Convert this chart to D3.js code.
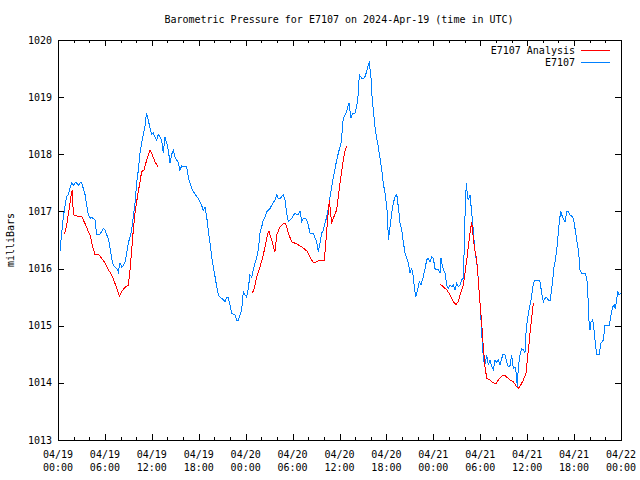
<!DOCTYPE html>
<html><head><meta charset="utf-8">
<script src="https://cdn.jsdelivr.net/npm/d3@7"></script>
<style>
body{margin:0;background:#fff;}
svg{display:block;}
text{font-family:"DejaVu Sans Mono","Liberation Mono",monospace;font-size:10px;fill:#000;}
</style></head><body>
<svg id="c" width="640" height="480"></svg>
<script>
// ---- data (hours after 2024-04-19 00:00 UTC, pressure in mb) ----
const obsHours = [0.26,0.45,0.68,0.90,1.11,1.32,1.53,1.75,1.96,2.17,2.39,2.60,2.81,3.03,3.24,3.45,3.67,3.88,4.09,4.31,4.73,4.95,5.37,5.59,5.79,6.01,6.23,6.43,6.65,6.87,7.07,7.29,7.51,7.71,7.93,8.15,8.35,8.57,8.79,8.99,9.21,9.43,9.63,9.85,10.06,10.27,10.49,10.70,10.91,11.13,11.32,11.55,11.77,11.98,12.19,12.41,12.62,12.83,13.04,13.26,13.47,13.68,13.90,14.11,14.32,14.54,14.75,14.96,15.18,15.39,15.60,15.82,16.02,16.46,16.66,16.88,17.10,17.52,17.94,18.38,18.58,18.80,19.02,19.22,19.44,19.66,19.86,20.08,20.30,20.50,20.72,20.94,21.14,21.36,21.57,21.78,22.00,22.21,22.42,22.64,22.85,23.06,23.28,23.49,23.70,23.92,24.13,24.34,24.55,24.77,24.98,25.19,25.41,25.62,25.83,26.05,26.26,26.47,26.69,26.90,27.11,27.33,27.53,27.75,27.97,28.17,28.39,28.61,28.81,29.03,29.25,29.45,29.67,29.89,30.09,30.31,30.53,30.73,30.95,31.17,31.37,31.59,31.81,32.01,32.23,32.45,32.65,32.87,33.08,33.29,33.51,33.72,33.93,34.15,34.36,34.57,34.79,35.00,35.21,35.43,35.64,35.85,36.06,36.28,36.36,36.49,36.70,36.92,37.13,37.25,37.43,37.69,37.98,38.20,38.41,38.53,38.84,39.05,39.26,39.48,39.68,39.81,40.03,40.12,40.32,40.54,40.76,40.96,41.18,41.40,41.60,41.82,42.04,42.16,42.24,42.46,42.68,42.88,43.10,43.32,43.52,43.74,43.96,44.16,44.38,44.60,44.80,45.02,45.23,45.44,45.57,45.75,45.95,46.21,46.42,46.72,46.94,47.15,47.36,47.57,47.79,48.00,48.21,48.43,48.64,48.85,48.98,49.15,49.28,49.49,49.71,49.92,50.13,50.35,50.55,50.77,50.99,51.19,51.41,51.63,51.83,51.96,52.09,52.22,52.35,52.47,52.69,52.91,53.04,53.20,53.37,53.55,53.68,53.80,53.97,54.10,54.19,54.31,54.48,54.65,54.83,55.03,55.25,55.47,55.67,55.89,56.11,56.31,56.53,56.87,57.17,57.38,57.59,57.81,58.02,58.23,58.45,58.57,58.74,58.87,59.09,59.30,59.51,59.72,59.85,60.02,60.24,60.49,60.79,61.00,61.43,61.64,61.86,62.07,62.28,62.50,62.70,62.92,63.14,63.27,63.43,63.56,63.78,63.98,64.11,64.29,64.42,64.62,64.84,65.06,65.26,65.48,65.83,65.99,66.21,66.41,66.59,66.76,66.98,67.40,67.62,67.74,67.87,68.04,68.17,68.38,68.55,68.72,68.89,69.23,69.41,69.74,69.96,70.51,70.68,70.94,71.14,71.27,71.45,71.58,71.75,71.96];
const obsPressure = [1016.30,1016.60,1016.90,1017.10,1017.26,1017.30,1017.40,1017.50,1017.45,1017.50,1017.50,1017.45,1017.50,1017.50,1017.40,1017.30,1017.10,1016.94,1016.88,1016.90,1016.85,1016.60,1016.60,1016.65,1016.70,1016.68,1016.59,1016.53,1016.36,1016.18,1016.06,1016.03,1016.00,1015.94,1016.10,1016.03,1016.05,1016.12,1016.27,1016.45,1016.55,1016.68,1016.90,1017.15,1017.50,1017.72,1018.02,1018.20,1018.34,1018.50,1018.72,1018.60,1018.45,1018.35,1018.37,1018.30,1018.25,1018.35,1018.30,1018.25,1018.02,1018.30,1018.20,1018.07,1017.85,1018.00,1018.07,1017.95,1017.90,1017.85,1017.72,1017.80,1017.78,1017.78,1017.60,1017.50,1017.40,1017.30,1017.23,1017.10,1017.02,1017.07,1016.90,1016.67,1016.45,1016.20,1016.03,1015.86,1015.68,1015.54,1015.50,1015.48,1015.45,1015.42,1015.50,1015.49,1015.36,1015.22,1015.20,1015.19,1015.10,1015.10,1015.19,1015.27,1015.60,1015.54,1015.50,1015.66,1015.89,1015.85,1015.98,1016.10,1016.19,1016.33,1016.62,1016.73,1016.85,1016.90,1016.99,1017.02,1017.05,1017.11,1017.15,1017.20,1017.29,1017.23,1017.22,1017.26,1017.29,1017.20,1016.97,1016.82,1016.85,1016.88,1016.93,1016.97,1016.95,1016.95,1017.00,1016.82,1016.88,1016.88,1016.85,1016.76,1016.62,1016.62,1016.62,1016.53,1016.47,1016.30,1016.45,1016.62,1016.67,1016.80,1016.90,1017.05,1017.26,1017.43,1017.60,1017.75,1017.90,1018.02,1018.13,1018.25,1018.48,1018.63,1018.69,1018.75,1018.86,1018.90,1018.63,1018.72,1018.72,1018.83,1019.07,1019.39,1019.33,1019.32,1019.36,1019.45,1019.56,1019.60,1019.33,1019.07,1018.78,1018.48,1018.28,1018.13,1017.93,1017.73,1017.49,1017.32,1017.08,1016.90,1016.50,1016.73,1016.97,1017.14,1017.26,1017.30,1017.08,1016.80,1016.67,1016.47,1016.27,1016.18,1016.10,1015.92,1016.00,1015.86,1015.68,1015.51,1015.60,1015.77,1015.71,1015.86,1016.00,1016.15,1016.18,1016.12,1016.20,1016.18,1016.00,1015.98,1015.98,1015.92,1016.18,1016.06,1015.98,1015.92,1015.71,1015.65,1015.71,1015.68,1015.71,1015.63,1015.74,1015.68,1015.71,1015.80,1015.83,1016.38,1017.14,1017.49,1017.29,1017.20,1017.29,1016.97,1016.79,1016.50,1016.24,1016.12,1015.94,1015.71,1015.39,1015.10,1014.87,1014.58,1014.37,1014.34,1014.49,1014.31,1014.40,1014.28,1014.23,1014.40,1014.35,1014.40,1014.31,1014.49,1014.49,1014.37,1014.28,1014.30,1014.49,1014.25,1014.28,1014.20,1013.93,1014.28,1014.49,1014.60,1014.58,1014.52,1014.87,1015.10,1015.28,1015.45,1015.74,1015.80,1015.80,1015.77,1015.57,1015.42,1015.48,1015.50,1015.45,1015.43,1015.65,1015.80,1016.03,1016.12,1016.33,1016.62,1016.82,1017.00,1016.94,1016.88,1016.82,1017.00,1017.00,1016.94,1016.90,1016.82,1016.62,1016.44,1016.27,1015.98,1015.92,1015.92,1015.83,1015.65,1015.13,1014.93,1015.07,1015.10,1014.93,1014.69,1014.50,1014.50,1014.69,1014.75,1015.01,1015.01,1015.16,1015.33,1015.36,1015.30,1015.45,1015.60,1015.54,1015.57];
// analysis series; null marks a gap in the record
const anaHours = [0.81,1.11,1.41,1.66,1.83,1.96,2.39,3.03,3.45,3.88,4.09,4.39,4.73,5.15,5.59,6.01,6.43,6.87,7.29,7.84,8.15,8.57,8.99,9.21,9.43,9.63,9.85,10.06,10.27,10.49,10.70,11.00,11.34,11.77,12.06,12.41,12.83,null,24.85,25.10,25.41,25.83,26.26,26.56,26.82,26.98,27.33,27.62,27.75,27.97,28.39,28.81,29.12,29.45,29.89,30.53,31.17,31.81,32.23,32.65,33.08,33.51,34.06,34.24,34.44,34.70,35.00,35.21,35.64,35.85,36.06,36.28,36.49,36.70,36.92,null,48.85,49.28,49.71,50.13,50.55,50.90,51.19,51.41,51.63,51.83,52.05,52.27,52.47,52.69,52.91,53.11,53.33,53.55,53.75,53.97,54.19,54.39,54.61,54.83,55.25,55.67,55.98,56.31,56.74,57.04,57.38,57.81,58.23,58.66,58.87,59.18,59.51,59.85,60.02,60.20,60.36,60.58,60.71,60.88];
const anaPressure = [1016.60,1016.76,1017.03,1017.26,1017.38,1016.94,1016.92,1016.91,1016.79,1016.65,1016.59,1016.41,1016.24,1016.25,1016.18,1016.10,1015.98,1015.89,1015.74,1015.52,1015.60,1015.67,1015.71,1015.98,1016.33,1016.68,1016.97,1017.17,1017.35,1017.52,1017.70,1017.72,1017.90,1018.08,1017.99,1017.87,1017.77,null,1015.57,1015.65,1015.86,1016.03,1016.24,1016.44,1016.62,1016.65,1016.50,1016.35,1016.30,1016.59,1016.73,1016.79,1016.79,1016.62,1016.47,1016.43,1016.38,1016.31,1016.20,1016.10,1016.12,1016.15,1016.15,1016.44,1016.79,1017.20,1016.79,1016.88,1017.03,1017.26,1017.49,1017.70,1017.90,1018.05,1018.15,null,1015.73,1015.68,1015.63,1015.54,1015.42,1015.37,1015.42,1015.54,1015.63,1015.71,1015.92,1016.15,1016.38,1016.62,1016.82,1016.53,1016.30,1016.15,1015.80,1015.39,1015.04,1014.63,1014.28,1014.08,1014.05,1014.00,1013.98,1014.05,1014.12,1014.14,1014.10,1014.05,1014.02,1013.93,1013.90,1013.96,1014.05,1014.17,1014.40,1014.63,1014.87,1015.13,1015.33,1015.40];
const yTicks = [1013,1014,1015,1016,1017,1018,1019,1020];
const seriesNames = ["E7107 Analysis","E7107"];
const titleText = "Barometric Pressure for E7107 on 2024-Apr-19 (time in UTC)";
const yTitle = "milliBars";

// ---- chart ----
const start = Date.UTC(2024,3,19,0,0);
const toDate = h => new Date(start + h*3600e3);
const obs = obsHours.map((h,i)=>({t:toDate(h), p:obsPressure[i]}));
const ana = anaHours.map((h,i)=>({t:h==null?null:toDate(h), p:anaPressure[i]}));

const L=58, R=621, T=40, B=440;
const svg = d3.select("#c");
const x = d3.scaleUtc().domain([toDate(0), toDate(72)]).range([L,R]);
const y = d3.scaleLinear().domain([1013,1020]).range([B,T]);

const major = d3.utcHour.every(6).range(toDate(0), toDate(72.01));
const minor = d3.utcHour.every(2).range(toDate(0), toDate(72.01));

const g = svg.append("g").attr("shape-rendering","crispEdges");
const tickG = g.append("g").attr("stroke","#000").attr("stroke-width",1);
minor.forEach(d=>{
  const isMajor = d.getUTCHours()%6===0;
  const len = isMajor?6:3;
  const xx = Math.round(x(d))+0.5;
  tickG.append("line").attr("x1",xx).attr("x2",xx).attr("y1",B).attr("y2",B-len);
  tickG.append("line").attr("x1",xx).attr("x2",xx).attr("y1",T).attr("y2",T+len);
});
yTicks.forEach(v=>{
  const yy = Math.round(y(v))+0.5;
  tickG.append("line").attr("x1",L).attr("x2",L+6).attr("y1",yy).attr("y2",yy);
  tickG.append("line").attr("x1",R).attr("x2",R-6).attr("y1",yy).attr("y2",yy);
});
g.append("rect").attr("x",L+0.5).attr("y",T+0.5).attr("width",R-L).attr("height",B-T)
  .attr("fill","none").attr("stroke","#000");

svg.append("g").selectAll("text").data(yTicks).join("text")
  .attr("x",L-6).attr("y",d=>y(d)).attr("dy","0.35em").attr("text-anchor","end").text(d=>d);
const fd = d3.utcFormat("%m/%d"), ft = d3.utcFormat("%H:%M");
const xl = svg.append("g").selectAll("text").data(major).join("text")
  .attr("text-anchor","middle");
xl.append("tspan").attr("x",d=>x(d)).attr("y",458).text(d=>fd(d));
xl.append("tspan").attr("x",d=>x(d)).attr("y",471).text(d=>ft(d));

svg.append("text").attr("x",339).attr("y",23).attr("text-anchor","middle").text(titleText);
svg.append("text").attr("transform","translate(14,240) rotate(-90)").attr("text-anchor","middle").text(yTitle);

const line = d3.line().defined(d=>d.t!=null && d.p!=null).x(d=>x(d.t)).y(d=>y(d.p));
svg.append("path").datum(obs).attr("d",line).attr("fill","none").attr("stroke","#0080ff")
  .attr("stroke-width",1).attr("shape-rendering","crispEdges");
svg.append("path").datum(ana).attr("d",line).attr("fill","none").attr("stroke","#ff0000")
  .attr("stroke-width",1).attr("shape-rendering","crispEdges");

const colors = ["#ff0000","#0080ff"];
seriesNames.forEach((n,i)=>{
  const ly = 50 + i*12;
  svg.append("text").attr("x",575).attr("y",ly).attr("dy","0.35em").attr("text-anchor","end").text(n);
  svg.append("line").attr("x1",581).attr("x2",610).attr("y1",ly+0.5).attr("y2",ly+0.5)
    .attr("stroke",colors[i]).attr("stroke-width",1).attr("shape-rendering","crispEdges");
});
</script>
</body></html>
